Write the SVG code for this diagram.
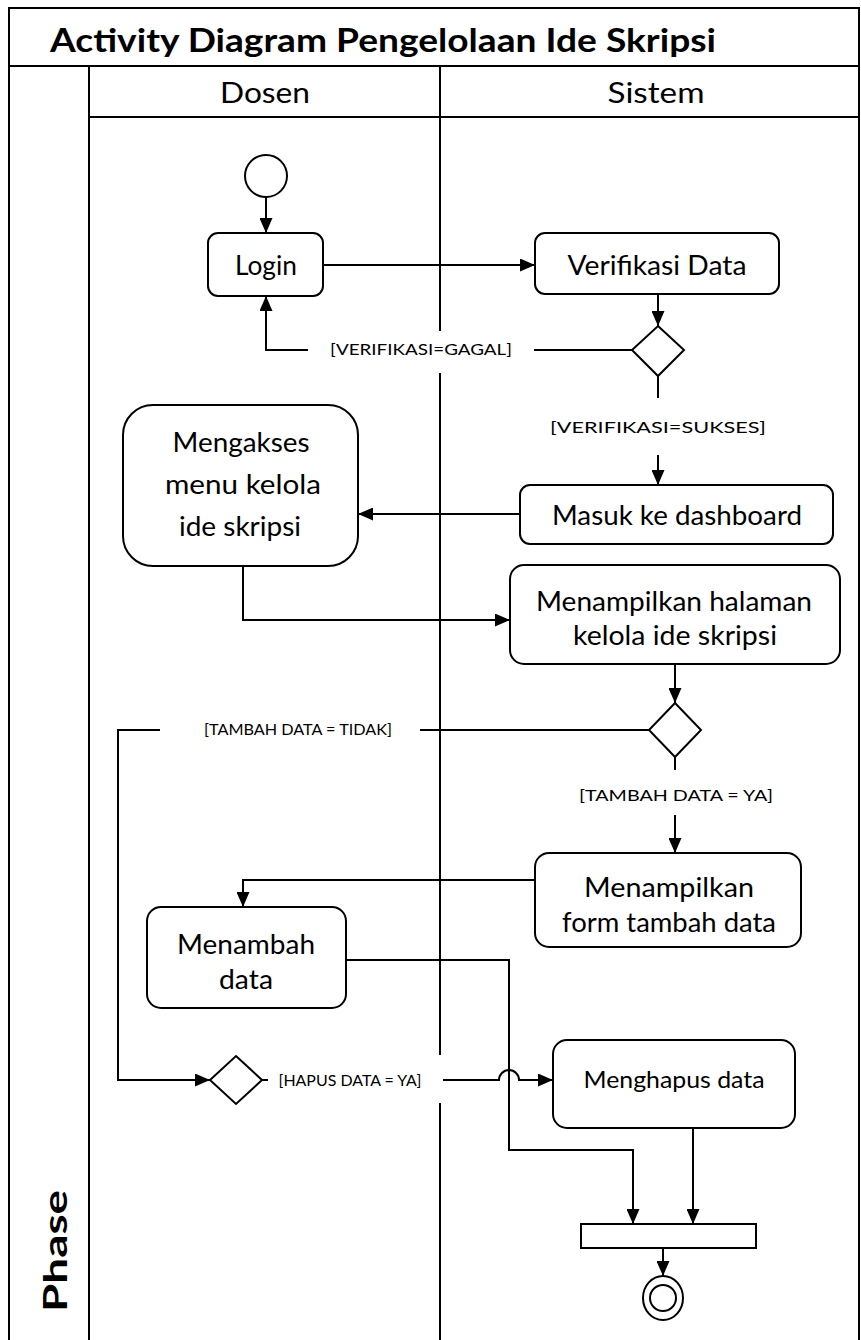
<svg xmlns="http://www.w3.org/2000/svg" width="861" height="1340" viewBox="0 0 861 1340">
<style>
.frame{fill:none;stroke:#000;stroke-width:2}
.node{fill:#fff;stroke:#000;stroke-width:2}
.conn{fill:none;stroke:#000;stroke-width:2}
.t{font-family:Lato,"Liberation Sans",sans-serif;fill:#000;text-anchor:middle}
.nt{font-size:27px}
.lbl{font-size:16px}
.bg{fill:#fff;stroke:none}
</style>
<defs>
<marker id="ah" markerUnits="userSpaceOnUse" markerWidth="15" markerHeight="13" refX="15" refY="6.5" orient="auto">
<path d="M0,0 L15,6.5 L0,13 z" fill="#000"/>
</marker>
</defs>
<rect width="861" height="1340" fill="#fff"/>
<g id="pool">
<path class="frame" d="M9,1340 V8 H859 V1340"/>
<line class="frame" x1="9" y1="66" x2="859" y2="66"/>
<line class="frame" x1="89" y1="117" x2="859" y2="117"/>
<line class="frame" x1="89" y1="66" x2="89" y2="1340"/>
<path class="frame" d="M440,66 V331 M440,373 V1055 M440,1103 V1340"/>
<text class="t" x="383" y="52" font-size="32" font-weight="bold" textLength="666" lengthAdjust="spacingAndGlyphs">Activity Diagram Pengelolaan Ide Skripsi</text>
<text class="t" x="265" y="103" font-size="28" textLength="90" lengthAdjust="spacingAndGlyphs">Dosen</text>
<text class="t" x="656" y="103" font-size="28" textLength="97" lengthAdjust="spacingAndGlyphs">Sistem</text>
<text class="t" transform="translate(67,1251) rotate(-90)" font-size="32" font-weight="bold" textLength="122" lengthAdjust="spacingAndGlyphs">Phase</text>
</g>
<g id="connectors">
<line class="conn" x1="266" y1="197" x2="266" y2="233" marker-end="url(#ah)"/>
<line class="conn" x1="323" y1="265" x2="535" y2="265" marker-end="url(#ah)"/>
<line class="conn" x1="658" y1="294" x2="658" y2="326" marker-end="url(#ah)"/>
<path class="conn" d="M634,350 H266 V296" marker-end="url(#ah)"/>
<path class="conn" d="M658,376 V485" marker-end="url(#ah)"/>
<line class="conn" x1="520" y1="514" x2="358" y2="514" marker-end="url(#ah)"/>
<path class="conn" d="M243,566 V620 H510" marker-end="url(#ah)"/>
<line class="conn" x1="675" y1="664" x2="675" y2="703" marker-end="url(#ah)"/>
<path class="conn" d="M649,730 H118 V1080 H210" marker-end="url(#ah)"/>
<path class="conn" d="M675,757 V853" marker-end="url(#ah)"/>
<path class="conn" d="M535,880 H243 V907" marker-end="url(#ah)"/>
<path class="conn" d="M346,960 H509 V1150 H633 V1224" marker-end="url(#ah)"/>
<path class="conn" d="M262,1080 H499 A10,10 0 0 1 519,1080 H553" marker-end="url(#ah)"/>
<line class="conn" x1="693" y1="1128" x2="693" y2="1224" marker-end="url(#ah)"/>
<line class="conn" x1="663" y1="1248" x2="663" y2="1276" marker-end="url(#ah)"/>
<g id="labels">
<rect class="bg" x="308" y="332" width="226" height="40"/>
<text class="t lbl" x="421" y="355" textLength="182" lengthAdjust="spacingAndGlyphs">[VERIFIKASI=GAGAL]</text>
<rect class="bg" x="540" y="398" width="236" height="57"/>
<text class="t lbl" x="658" y="433" textLength="216" lengthAdjust="spacingAndGlyphs">[VERIFIKASI=SUKSES]</text>
<rect class="bg" x="160" y="716" width="260" height="26"/>
<text class="t lbl" x="298" y="735" textLength="188" lengthAdjust="spacingAndGlyphs">[TAMBAH  DATA = TIDAK]</text>
<rect class="bg" x="566" y="770" width="220" height="45"/>
<text class="t lbl" x="676" y="801" textLength="194" lengthAdjust="spacingAndGlyphs">[TAMBAH  DATA = YA]</text>
<rect class="bg" x="268" y="1056" width="175" height="46"/>
<text class="t lbl" x="350" y="1086" textLength="143" lengthAdjust="spacingAndGlyphs">[HAPUS DATA  = YA]</text>
</g>
</g>
<g id="start"><circle class="node" cx="266" cy="176" r="21"/></g>
<g id="login"><rect class="node" x="208" y="233" width="115" height="63" rx="10"/><text class="t nt" x="266" y="275" textLength="62" lengthAdjust="spacingAndGlyphs">Login</text></g>
<g id="verifikasi"><rect class="node" x="535" y="233" width="244" height="61" rx="10"/><text class="t nt" x="657" y="275" textLength="179" lengthAdjust="spacingAndGlyphs">Verifikasi Data</text></g>
<g id="decision1"><polygon class="node" points="658,326 684,350 658,376 632,350"/></g>
<g id="dashboard"><rect class="node" x="520" y="485" width="313" height="59" rx="10"/><text class="t nt" x="677" y="525" textLength="250" lengthAdjust="spacingAndGlyphs">Masuk ke dashboard</text></g>
<g id="mengakses"><rect class="node" x="123" y="405" width="235" height="161" rx="30"/>
<text class="t nt" x="241" y="452" textLength="137" lengthAdjust="spacingAndGlyphs">Mengakses</text><text class="t nt" x="243" y="494" textLength="156" lengthAdjust="spacingAndGlyphs">menu kelola</text><text class="t nt" x="240" y="536" textLength="122" lengthAdjust="spacingAndGlyphs">ide skripsi</text></g>
<g id="halaman"><rect class="node" x="510" y="565" width="330" height="99" rx="14"/>
<text class="t nt" x="674" y="611" textLength="276" lengthAdjust="spacingAndGlyphs">Menampilkan halaman</text><text class="t nt" x="675" y="645" textLength="204" lengthAdjust="spacingAndGlyphs">kelola ide skripsi</text></g>
<g id="decision2"><polygon class="node" points="675,703 701,730 675,757 649,730"/></g>
<g id="form"><rect class="node" x="535" y="853" width="266" height="94" rx="14"/>
<text class="t nt" x="669" y="897" textLength="170" lengthAdjust="spacingAndGlyphs">Menampilkan</text><text class="t nt" x="669" y="932" textLength="214" lengthAdjust="spacingAndGlyphs">form tambah data</text></g>
<g id="menambah"><rect class="node" x="147" y="907" width="199" height="101" rx="14"/>
<text class="t nt" x="246" y="954" textLength="138" lengthAdjust="spacingAndGlyphs">Menambah</text><text class="t nt" x="246" y="989" textLength="54" lengthAdjust="spacingAndGlyphs">data</text></g>
<g id="decision3"><polygon class="node" points="236,1056 262,1080 236,1104 210,1080"/></g>
<g id="menghapus"><rect class="node" x="553" y="1040" width="242" height="88" rx="14"/><text class="t" x="674" y="1088" font-size="24" textLength="181" lengthAdjust="spacingAndGlyphs">Menghapus data</text></g>
<g id="join"><rect class="node" x="581" y="1224" width="175" height="24"/></g>
<g id="end"><ellipse class="node" cx="663" cy="1298" rx="20" ry="22"/><circle cx="663" cy="1298" r="13" fill="#fff" stroke="#000" stroke-width="2"/></g>
</svg>
